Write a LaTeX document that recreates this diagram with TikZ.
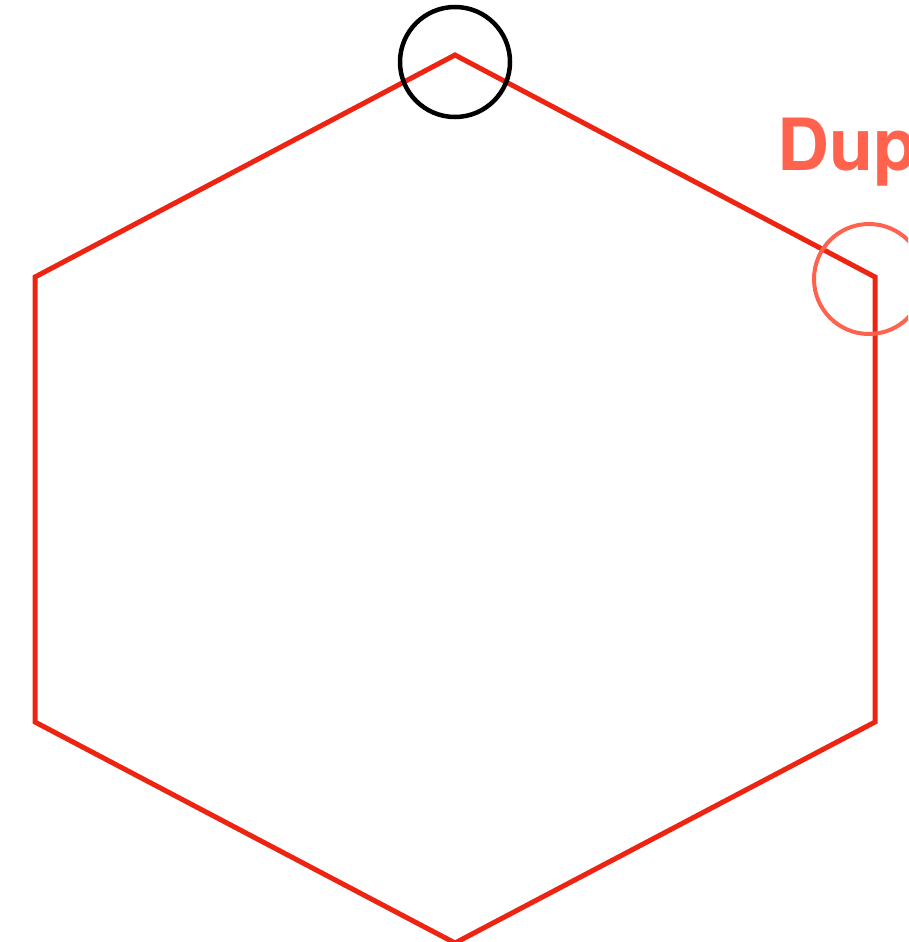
\documentclass[tikz,border=0pt]{standalone}
\usepackage{fontspec}
\setsansfont{TeX Gyre Heros}
\usepackage{tikz}
\usetikzlibrary{positioning}
\definecolor{hexred}{RGB}{238,36,18}
\definecolor{duptomato}{RGB}{255,99,78}

\begin{document}
\begin{tikzpicture}[
  x=1pt, y=-1pt,
  hexline/.style={draw=hexred, line width=5pt, line join=miter},
  marker/.style={circle, draw=black, line width=4.5pt, minimum size=110pt, inner sep=0pt},
  dupmarker/.style={circle, draw=duptomato, line width=4pt, minimum size=110pt, inner sep=0pt},
  duplabel/.style={text=duptomato, font=\sffamily\bfseries\fontsize{72}{72}\selectfont, inner sep=0pt, anchor=base west}
]
  \useasboundingbox (0,0) rectangle (908,942);
  \clip (0,0) rectangle (908,942);

  \coordinate (top)   at (455,55);
  \coordinate (upr)   at (875,277);
  \coordinate (lowr)  at (875,722);
  \coordinate (bot)   at (455,943);
  \coordinate (lowl)  at (35,722);
  \coordinate (upl)   at (35,277);

  \draw[hexline] (top) -- (upr) -- (lowr) -- (bot) -- (lowl) -- (upl) -- cycle;

  \node[marker]    (topmark) at (455,62)  {};
  \node[dupmarker] (dupmark) at (869,279) {};
  \node[duplabel]  (dup)     at (777,170) {Dup};
\end{tikzpicture}
\end{document}
